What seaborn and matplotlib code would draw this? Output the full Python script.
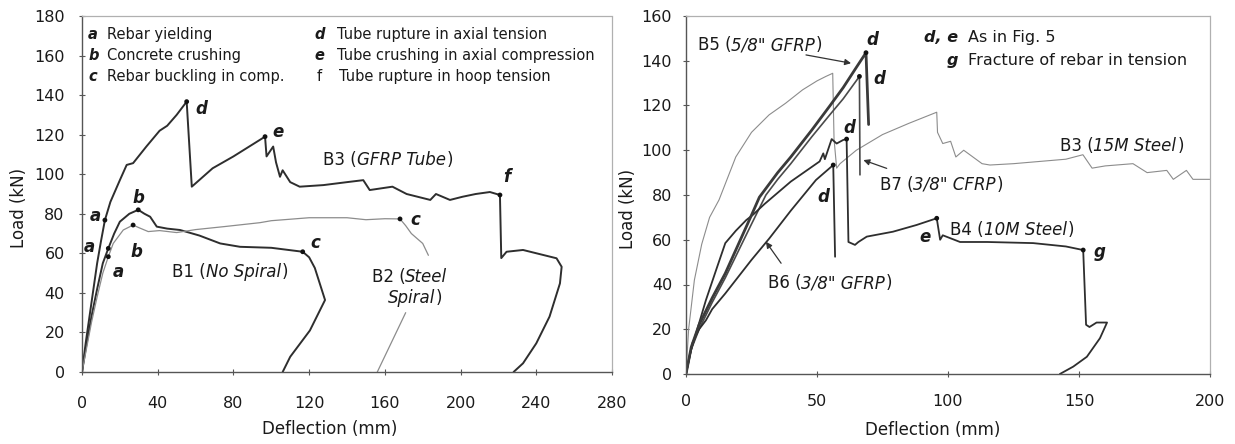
import matplotlib
matplotlib.use("Agg")
import matplotlib.pyplot as plt
import seaborn as sns
import pandas as pd

# ---------------- Left panel: tube beams (Fig. 5) ----------------
b3_x = [0, 2, 5, 8, 10, 12.1, 15, 20, 23.6, 27, 34, 41, 45, 50, 55.3, 58, 69, 80, 96.7,
        97.5, 101, 102.5, 104.6, 106, 110, 115, 127.5, 140, 148.6, 152, 164, 171.5, 184,
        187, 194.4, 201, 208, 215.5, 220.8, 221.5, 224.3, 233, 250.7, 253.4, 252.5, 247,
        240, 233, 228]
b3_y = [0, 15, 35, 55, 66, 76.8, 86, 97, 104.7, 105.6, 114, 122, 124.5, 130, 136.7, 93.7,
        103, 109, 119, 109, 114, 106, 98.7, 102, 96, 93.7, 94.5, 96, 97, 92, 93.7, 90, 87,
        90, 87, 88.6, 90, 91, 89.5, 57.6, 60.8, 61.7, 57.5, 53.2, 44.8, 28, 14.5, 4.4, 0]

b1_x = [0, 2, 5, 8, 11, 13.9, 17, 20, 25, 29.7, 33, 36, 39.5, 45, 51.8, 62, 73, 83.5, 100,
        116.6, 120, 123, 128.4, 120.4, 110, 106]
b1_y = [0, 12, 28, 42, 55, 62.5, 70, 76, 80, 82, 80, 78.5, 73.5, 72.5, 71.8, 69, 65, 63.3,
        62.8, 60.8, 58, 52.6, 36.4, 21, 7.7, 0]

b2_x = [0, 2, 5, 8, 11, 13.9, 16.5, 21.8, 27, 30, 35, 41, 50, 60, 75, 94, 100, 120, 140,
        150, 160, 168, 171, 174, 180, 183]
b2_y = [0, 10, 25, 38, 50, 58.3, 65, 71.8, 74.3, 73, 71, 71.5, 70.5, 72, 73.5, 75.5, 76.5,
        78, 78, 77, 77.5, 77.4, 74, 70, 65, 59]
b2_unload_x = [156, 171]
b2_unload_y = [0, 30]

left_event_x = [12.1, 13.9, 13.9, 29.7, 27, 116.6, 168, 55.3, 96.7, 220.8]
left_event_y = [76.8, 62.5, 58.3, 82, 74.3, 60.8, 77.4, 136.7, 119, 89.5]

left_letters = ["a", "a", "a", "b", "b", "c", "c", "d", "e", "f"]
left_letter_x = [7, 4, 19, 29.6, 28.5, 123, 176, 63, 103.7, 224.5]
left_letter_y = [79, 63, 50.5, 88, 60.6, 65, 77, 133, 121.5, 98.6]

legend_left_keys = ["a", "b", "c"]
legend_left_text = ["Rebar yielding", "Concrete crushing", "Rebar buckling in comp."]
legend_right_keys = ["d", "e", "f"]
legend_right_text = ["Tube rupture in axial tension", "Tube crushing in axial compression",
                     "Tube rupture in hoop tension"]

# ---------------- Right panel: reinforced beams ----------------
r_b3_x = [0, 1, 3.2, 6, 9, 12.6, 16, 19, 25, 31.7, 38, 44.5, 50, 53.4, 56, 56.5, 57.5, 58.8,
          65, 75, 85, 95.7, 96, 98, 101, 103, 106, 109.5, 113, 116, 125, 135, 145, 151.5,
          155, 160, 170.6, 176, 183.5, 186, 191, 193.5, 200]
r_b3_y = [0, 20, 42, 58, 70, 77.8, 88, 97, 108, 115.8, 121, 127, 131, 133, 134.4, 105, 92,
          94, 100, 107, 112, 117, 108, 103, 104, 97, 100, 97, 94, 93.4, 94, 95, 96, 98, 92,
          93, 94, 90, 91, 87, 91, 87, 87]

b5_x = [0, 2, 5, 10, 15, 20, 25, 28, 35, 40, 48, 55, 60, 65, 68.7, 69.7]
b5_y = [0, 12, 22, 34, 45, 58, 71, 79, 90, 97, 109, 120, 128, 137, 143.6, 111.5]

b7_x = [0, 2, 5, 10, 15, 20, 25, 30.5, 35, 40, 48, 55, 60, 66.2, 66.4]
b7_y = [0, 11, 20, 32, 43, 55, 67, 80, 87, 94, 106, 116, 123, 133, 89]

b4_x = [0, 1.5, 3.8, 7.6, 11.5, 15, 19, 23, 25.4, 30, 40, 51, 52.4, 53, 55.6, 57.5, 60,
        61.3, 62, 64.5, 65.8, 69, 79, 88, 95.7, 97, 98, 104.6, 115, 132.5, 145, 151.6,
        152.7, 154, 156.7, 160.7, 158, 153, 147.8, 142.7]
b4_y = [0, 9, 18, 33, 46.5, 58.5, 64, 68.8, 71, 76, 86, 95, 98.6, 96, 105, 103, 104.6, 105,
        59, 57.7, 59, 61.4, 63.6, 66.6, 69.6, 60, 62, 59, 59, 58.5, 57, 55.4, 22, 21, 23, 23,
        16, 7.7, 3.3, 0]

b6_x = [0, 2.5, 5, 7.6, 10, 15, 19, 25, 31.8, 40, 49.6, 56.2, 56.9]
b6_y = [0, 14, 20, 24, 29, 36, 42, 51, 60.6, 73, 86.7, 93.4, 52.4]

right_event_x = [68.7, 66.2, 61.3, 56.2, 95.7, 151.6]
right_event_y = [143.6, 133, 105, 93.4, 69.6, 55.4]

right_letters = ["d", "d", "d", "d", "e", "g"]
right_letter_x = [71.3, 73.8, 62.3, 52.4, 91.2, 158]
right_letter_y = [149.3, 132, 109.8, 79, 61.4, 54.7]

# ---------------- Style ----------------
sns.set_theme(style="white")
plt.rcParams["font.family"] = ["DejaVu Sans"]

TXT = "#1a1a1a"
DARK = "#2e2e2e"
LIGHT = "#8c8c8c"

fig = plt.figure(figsize=(12.35, 4.44), dpi=100)
axL = fig.add_axes([82 / 1235, 1 - 372 / 444, 530 / 1235, 356 / 444])
axR = fig.add_axes([686 / 1235, 1 - 374 / 444, 524 / 1235, 358 / 444])


def curve(ax, xs, ys, color, lw):
    sns.lineplot(x=xs, y=ys, sort=False, estimator=None, ax=ax, color=color,
                 linewidth=lw, legend=False)


def frame(ax, xpad, ypad):
    for side in ("left", "bottom"):
        ax.spines[side].set_color("#555555")
        ax.spines[side].set_linewidth(1.0)
    for side in ("top", "right"):
        ax.spines[side].set_color("#b0b0b0")
        ax.spines[side].set_linewidth(0.9)
        ax.spines[side].set_linestyle((0, (1.5, 1)))
    ax.tick_params(axis="both", which="both", bottom=True, left=True, top=False,
                   right=False, direction="inout", length=5, width=0.8,
                   color="#555555", labelsize=11.5, labelcolor=TXT)
    ax.tick_params(axis="x", pad=xpad)
    ax.tick_params(axis="y", pad=ypad)
    ax.grid(False)


def specimen_label(ax, x, y, name, detail, size=12):
    """Specimen name upright, the bracketed detail in italics, written left to right."""
    t = ax.text(x, y, name + " (", fontsize=size, ha="left", va="center", color=TXT)
    t = ax.annotate(detail, xy=(1, 0), xycoords=t, fontsize=size, fontstyle="italic",
                    ha="left", va="bottom", color=TXT)
    ax.annotate(")", xy=(1, 0), xycoords=t, xytext=(0.6, 0), textcoords="offset points",
                fontsize=size, ha="left", va="bottom", color=TXT)


# Left panel curves
curve(axL, b3_x, b3_y, DARK, 1.4)
curve(axL, b1_x, b1_y, DARK, 1.4)
curve(axL, b2_x, b2_y, LIGHT, 0.9)
curve(axL, b2_unload_x, b2_unload_y, LIGHT, 0.9)
sns.scatterplot(x=left_event_x, y=left_event_y, ax=axL, color="#111111", s=12,
                edgecolor="none", legend=False, zorder=5)

axL.set_xlim(0, 280)
axL.set_ylim(0, 180)
axL.set_xticks(range(0, 281, 40))
axL.set_yticks(range(0, 181, 20))
frame(axL, 15, 10)
axL.set_xlabel("Deflection (mm)", fontsize=12, color=TXT)
axL.set_ylabel("Load (kN)", fontsize=12, color=TXT)
axL.xaxis.set_label_coords(0.468, -0.135)
axL.yaxis.set_label_coords(-0.102, 0.46)

LEG = 10.5
for k, (key, txt) in enumerate(zip(legend_left_keys, legend_left_text)):
    y = 170.4 - k * 10.6
    axL.text(3.2, y, key, fontsize=LEG, fontweight="bold", fontstyle="italic",
             ha="left", va="center", color=TXT)
    axL.text(13.2, y, txt, fontsize=LEG, ha="left", va="center", color=TXT)
for k, (key, txt) in enumerate(zip(legend_right_keys, legend_right_text)):
    y = 170.4 - k * 10.6
    bold = key != "f"
    axL.text(123 if bold else 124, y, key, fontsize=LEG,
             fontweight="bold" if bold else "normal",
             fontstyle="italic" if bold else "normal",
             ha="left", va="center", color=TXT)
    axL.text(134.5 if bold else 136, y, txt, fontsize=LEG, ha="left", va="center",
             color=TXT)

for s, x, y in zip(left_letters, left_letter_x, left_letter_y):
    axL.text(x, y, s, fontsize=12, fontweight="bold", fontstyle="italic",
             ha="center", va="center", color=TXT)

specimen_label(axL, 127.3, 107, "B3", "GFRP Tube")
specimen_label(axL, 47.5, 50.6, "B1", "No Spiral")
t2 = axL.text(153, 48.2, "B2 (", fontsize=12, ha="left", va="center", color=TXT)
axL.annotate("Steel", xy=(1, 0), xycoords=t2, fontsize=12, fontstyle="italic",
             ha="left", va="bottom", color=TXT)
t3 = axL.text(161.5, 37.3, "Spiral", fontsize=12, fontstyle="italic", ha="left",
              va="center", color=TXT)
axL.annotate(")", xy=(1, 0), xycoords=t3, xytext=(0.6, 0), textcoords="offset points",
             fontsize=12, ha="left", va="bottom", color=TXT)

# Right panel curves
curve(axR, r_b3_x, r_b3_y, LIGHT, 0.8)
curve(axR, b7_x, b7_y, "#4a4a4a", 1.2)
curve(axR, b6_x, b6_y, DARK, 1.3)
curve(axR, b4_x, b4_y, DARK, 1.3)
curve(axR, b5_x, b5_y, "#3a3a3a", 2.0)
sns.scatterplot(x=right_event_x, y=right_event_y, ax=axR, color="#111111", s=12,
                edgecolor="none", legend=False, zorder=5)

axR.set_xlim(0, 200)
axR.set_ylim(0, 160)
axR.set_xticks(range(0, 201, 50))
axR.set_yticks(range(0, 161, 20))
frame(axR, 12, 7.5)
axR.set_xlabel("Deflection (mm)", fontsize=12, color=TXT)
axR.set_ylabel("Load (kN)", fontsize=12, color=TXT)
axR.xaxis.set_label_coords(0.471, -0.131)
axR.yaxis.set_label_coords(-0.0935, 0.46)

for s, x, y in zip(right_letters, right_letter_x, right_letter_y):
    axR.text(x, y, s, fontsize=12, fontweight="bold", fontstyle="italic",
             ha="center", va="center", color=TXT)

NOTE = 11.5
axR.text(103.8, 150.6, "d, e", fontsize=NOTE, fontweight="bold", fontstyle="italic",
         ha="right", va="center", color=TXT)
axR.text(107.6, 150.6, "As in Fig. 5", fontsize=NOTE, ha="left", va="center", color=TXT)
axR.text(103.8, 140.3, "g", fontsize=NOTE, fontweight="bold", fontstyle="italic",
         ha="right", va="center", color=TXT)
axR.text(107.6, 140.3, "Fracture of rebar in tension", fontsize=NOTE, ha="left",
         va="center", color=TXT)

specimen_label(axR, 4.5, 147, "B5", '5/8" GFRP')
specimen_label(axR, 74, 84.5, "B7", '3/8" CFRP')
specimen_label(axR, 142.7, 102, "B3", "15M Steel")
specimen_label(axR, 100.8, 64.4, "B4", "10M Steel")
specimen_label(axR, 31.2, 40.5, "B6", '3/8" GFRP')

arrow = dict(arrowstyle="-|>", color="#333333", lw=0.9, mutation_scale=9,
             shrinkA=0, shrinkB=0)
axR.annotate("", xy=(63, 138.9), xytext=(45.8, 142.6), arrowprops=arrow)
axR.annotate("", xy=(67.7, 95.6), xytext=(76.6, 91.9), arrowprops=arrow)
axR.annotate("", xy=(30.5, 59.1), xytext=(36.3, 49.5), arrowprops=arrow)

fig.savefig("out.png", dpi=100)
